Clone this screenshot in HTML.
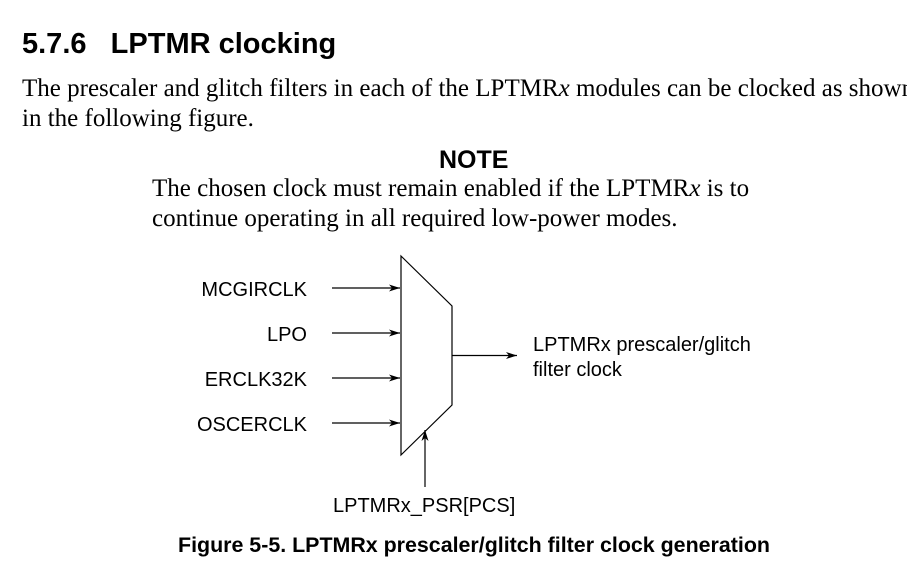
<!DOCTYPE html>
<html><head><style>
body{margin:0;width:907px;height:578px;background:#fff;position:relative;overflow:hidden;color:#000}
.t{position:absolute;white-space:nowrap}
.s{font-family:"Liberation Sans",sans-serif}
.r{font-family:"Liberation Serif",serif;font-size:25px}
</style></head><body>
<div class="t s" style="left:22px;top:28px;font-size:29px;font-weight:bold">5.7.6&nbsp;&nbsp;&nbsp;LPTMR clocking</div>
<div class="t r" style="left:22px;top:75px">The prescaler and glitch filters in each of the LPTMR<i>x</i> modules can be clocked as shown</div>
<div class="t r" style="left:22px;top:105px">in the following figure.</div>
<div class="t s" style="left:439px;top:146px;font-size:25px;font-weight:bold">NOTE</div>
<div class="t r" style="left:152px;top:175px">The chosen clock must remain enabled if the LPTMR<i>x</i> is to</div>
<div class="t r" style="left:152px;top:205px">continue operating in all required low-power modes.</div>
<svg width="907" height="578" style="position:absolute;left:0;top:0">
<defs><marker id="a" markerWidth="12" markerHeight="8" refX="11" refY="4" orient="auto" markerUnits="userSpaceOnUse"><path d="M0,0.5 L11,4 L0,7.5 L3,4Z" fill="#000"/></marker></defs>
<polygon points="401,256 452,306 452,405 401,455" fill="none" stroke="#000" stroke-width="1.2"/>
<g stroke="#000" stroke-width="1.2">
<line x1="332" y1="288" x2="400" y2="288" marker-end="url(#a)"/>
<line x1="332" y1="333" x2="400" y2="333" marker-end="url(#a)"/>
<line x1="332" y1="378" x2="400" y2="378" marker-end="url(#a)"/>
<line x1="332" y1="423" x2="400" y2="423" marker-end="url(#a)"/>
<line x1="452" y1="355.5" x2="517" y2="355.5" marker-end="url(#a)"/>
<line x1="425" y1="487" x2="425" y2="430" marker-end="url(#a)"/>
</g>
</svg>
<div class="t s" style="right:600px;top:279px;font-size:20px">MCGIRCLK</div>
<div class="t s" style="right:600px;top:324px;font-size:20px">LPO</div>
<div class="t s" style="right:600px;top:369px;font-size:20px">ERCLK32K</div>
<div class="t s" style="right:600px;top:414px;font-size:20px">OSCERCLK</div>
<div class="t s" style="left:533px;top:334px;font-size:20px">LPTMRx prescaler/glitch</div>
<div class="t s" style="left:533px;top:359px;font-size:20px">filter clock</div>
<div class="t s" style="left:333px;top:495px;font-size:20px">LPTMRx_PSR[PCS]</div>
<div class="t s" style="left:178px;top:533px;font-size:21.4px;font-weight:bold">Figure 5-5. LPTMRx prescaler/glitch filter clock generation</div>
</body></html>
